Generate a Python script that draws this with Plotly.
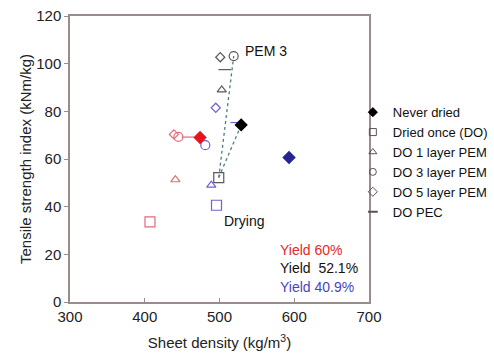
import plotly.graph_objects as go

# Data (sheet density kg/m3, tensile index kNm/kg); order: red (60%), black (52.1%), blue (40.9%)
never_x = [474, 529, 593]
never_y = [69, 74.3, 60.6]
do_x = [407, 499, 496]
do_y = [33.6, 52.2, 40.6]
l1_x = [441, 503, 489]
l1_y = [51.3, 89, 49]
l3_x = [445, 519, 481]
l3_y = [69.3, 103.2, 65.8]
l5_x = [439, 501, 495]
l5_y = [70.3, 102.7, 81.5]
pec_x = [458, 507, 523]
pec_y = [69.2, 97.5, 75.3]

colors_fill = ["#e3161c", "#000000", "#252590"]
colors_open = ["#e46a78", "#5a5a5a", "#6d62d0"]

fig = go.Figure()

# dotted drying lines
fig.add_trace(go.Scatter(x=[do_x[1], l3_x[1]], y=[do_y[1], l3_y[1]], mode="lines",
                         line=dict(color="#4f7d80", width=1.3, dash="dot"), showlegend=False, hoverinfo="skip"))
fig.add_trace(go.Scatter(x=[do_x[1], never_x[1]], y=[do_y[1], never_y[1]], mode="lines",
                         line=dict(color="#4f7d80", width=1.3, dash="dot"), showlegend=False, hoverinfo="skip"))

def add(name, xs, ys, symbol, size, filled):
    for i in range(3):
        col = colors_fill[i] if filled else colors_open[i]
        fig.add_trace(go.Scatter(
            x=[xs[i]], y=[ys[i]], mode="markers", name=name,
            legendgroup=name, showlegend=False,
            marker=dict(symbol=symbol, size=size, color=col,
                        line=dict(color=col, width=1.2))))
    # legend entry (black)
    fig.add_trace(go.Scatter(
        x=[None], y=[None], mode="markers", name=name, legendgroup=name,
        marker=dict(symbol=symbol, size=7,
                    color="#000000" if filled else "#555555",
                    line=dict(color="#000000" if filled else "#555555", width=1))))

add("DO PEC", pec_x, pec_y, "line-ew", 9, False)
add("Dried once (DO)", do_x, do_y, "square-open", 10, False)
add("DO 1 layer PEM", l1_x, l1_y, "triangle-up-open", 8, False)
add("DO 3 layer PEM", l3_x, l3_y, "circle-open", 9, False)
add("DO 5 layer PEM", l5_x, l5_y, "diamond-open", 7, False)
add("Never dried", never_x, never_y, "diamond", 9, True)

order = ["Never dried", "Dried once (DO)", "DO 1 layer PEM", "DO 3 layer PEM", "DO 5 layer PEM", "DO PEC"]
for tr in fig.data:
    if tr.name in order:
        tr.legendrank = order.index(tr.name) + 1
    if tr.name == "DO PEC" and tr.x[0] is None:
        tr.marker.line.width = 2

axis_col = "#9b8c8c"
font = "Liberation Sans, Arial, sans-serif"

fig.update_layout(
    width=494, height=355,
    margin=dict(l=70, r=125, t=16, b=53, autoexpand=False),
    paper_bgcolor="white", plot_bgcolor="white",
    font=dict(family=font, color="#222222", size=14),
    showlegend=True,
    legend=dict(x=0.946, y=0.716, xanchor="left", yanchor="top",
                font=dict(size=13, color="#111111"), tracegroupgap=0,
                itemwidth=30, bgcolor="rgba(0,0,0,0)", traceorder="normal"),
    xaxis=dict(range=[300, 700], tickvals=[300, 400, 500, 600, 700],
               showgrid=False, zeroline=False, showline=True, linecolor=axis_col, linewidth=1.5,
               mirror=True, ticks="inside", ticklen=4, tickcolor=axis_col,
               tickfont=dict(size=15, color="#222222"),
               title=dict(text="Sheet density (kg/m<sup>3</sup>)", font=dict(size=15), standoff=14)),
    yaxis=dict(range=[0, 120], tickvals=[0, 20, 40, 60, 80, 100, 120],
               showgrid=False, zeroline=False, showline=True, linecolor=axis_col, linewidth=1.5,
               mirror=True, ticks="outside", ticklen=4, tickcolor=axis_col,
               tickfont=dict(size=15, color="#222222"),
               title=dict(text="Tensile strength index (kNm/kg)", font=dict(size=15), standoff=1)),
)

fig.add_annotation(x=531, y=105.5, text="PEM 3", showarrow=False, xanchor="left",
                   font=dict(size=14, color="#111111"))
fig.add_annotation(x=503, y=34, text="Drying", showarrow=False, xanchor="left",
                   font=dict(size=14, color="#111111"))
fig.add_annotation(x=578, y=21.8, text="Yield 60%", showarrow=False, xanchor="left",
                   font=dict(size=14, color="#e8262c"))
fig.add_annotation(x=578, y=14.2, text="Yield  52.1%", showarrow=False, xanchor="left",
                   font=dict(size=14, color="#111111"))
fig.add_annotation(x=578, y=6.3, text="Yield 40.9%", showarrow=False, xanchor="left",
                   font=dict(size=14, color="#4a44c4"))

fig.write_html("out.html")
